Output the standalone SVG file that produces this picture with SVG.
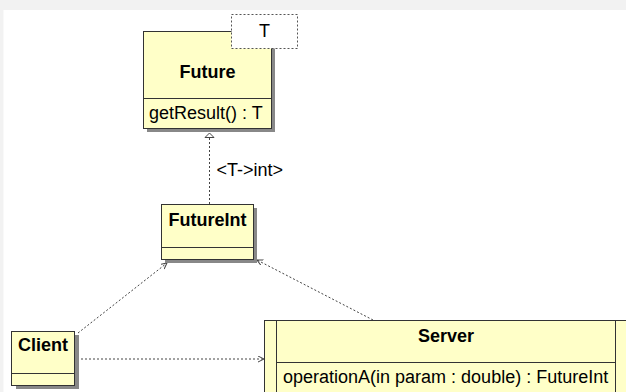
<svg xmlns="http://www.w3.org/2000/svg" width="626" height="392" viewBox="0 0 626 392">
<defs>
<style>
.box{fill:#ffffc8;stroke:#333;stroke-width:1}
.shadow{fill:#888;stroke:none}
.div{stroke:#333;stroke-width:1}
.title{font-family:"Liberation Sans",Arial,sans-serif;font-size:18px;font-weight:bold;fill:#000}
.txt{font-family:"Liberation Sans",Arial,sans-serif;font-size:18px;fill:#000}
.dep{fill:none;stroke:#444;stroke-width:1;stroke-dasharray:2,2}
</style>
<marker id="open" markerWidth="8" markerHeight="8" refX="6" refY="3" orient="auto" markerUnits="userSpaceOnUse">
<path d="M0,0 L6,3 L0,6" fill="none" stroke="#444" stroke-width="1"/>
</marker>
<marker id="tri" markerWidth="8" markerHeight="12" refX="5" refY="5.5" orient="auto" markerUnits="userSpaceOnUse">
<path d="M5,5.5 L0.5,1 L0.5,10 Z" fill="#fff" stroke="#444" stroke-width="1"/>
</marker>
</defs>
<rect x="0" y="0" width="626" height="392" fill="#f2f2f2"/>
<rect x="3.5" y="10" width="623" height="382" fill="#fff"/>

<g id="connectors">
<line class="dep" x1="209.5" y1="204" x2="209.5" y2="133" marker-end="url(#tri)"/>
<line class="dep" x1="78" y1="333" x2="167" y2="263" marker-end="url(#open)"/>
<line class="dep" x1="373" y1="320" x2="257" y2="260" marker-end="url(#open)"/>
<line class="dep" x1="77" y1="359" x2="264" y2="359" marker-end="url(#open)"/>
</g>

<g id="Future">
<rect class="shadow" x="147" y="35" width="128" height="97"/>
<rect class="box" x="143.5" y="31.5" width="128" height="97"/>
<line class="div" x1="143.5" y1="98.5" x2="271.5" y2="98.5"/>
<text class="title" x="207.5" y="77.5" text-anchor="middle">Future</text>
<text class="txt" x="149" y="119">getResult() : T</text>
<rect x="231.5" y="14.5" width="66" height="34" fill="#fff" stroke="#555" stroke-width="1" stroke-dasharray="2,2"/>
<text class="txt" x="264.5" y="37" text-anchor="middle">T</text>
</g>

<text class="txt" x="216.5" y="176">&lt;T-&gt;int&gt;</text>

<g id="FutureInt">
<rect class="shadow" x="165" y="208" width="92" height="55"/>
<rect class="box" x="161.5" y="204.5" width="92" height="55"/>
<line class="div" x1="161.5" y1="247.5" x2="253.5" y2="247.5"/>
<text class="title" x="207.5" y="226" text-anchor="middle">FutureInt</text>
</g>

<g id="Client">
<rect class="shadow" x="16" y="335" width="63" height="54"/>
<rect class="box" x="11.5" y="331.5" width="63" height="54"/>
<line class="div" x1="11.5" y1="373.5" x2="74.5" y2="373.5"/>
<text class="title" x="43" y="351" text-anchor="middle">Client</text>
</g>

<g id="Server">
<rect class="box" x="264.5" y="320.5" width="370" height="80"/>
<line class="div" x1="276.5" y1="320.5" x2="276.5" y2="400"/>
<line class="div" x1="615.5" y1="320.5" x2="615.5" y2="400"/>
<line class="div" x1="276.5" y1="362.5" x2="615.5" y2="362.5"/>
<text class="title" x="446" y="342" text-anchor="middle">Server</text>
<text class="txt" x="283" y="383">operationA(in param : double) : FutureInt</text>
</g>
</svg>
